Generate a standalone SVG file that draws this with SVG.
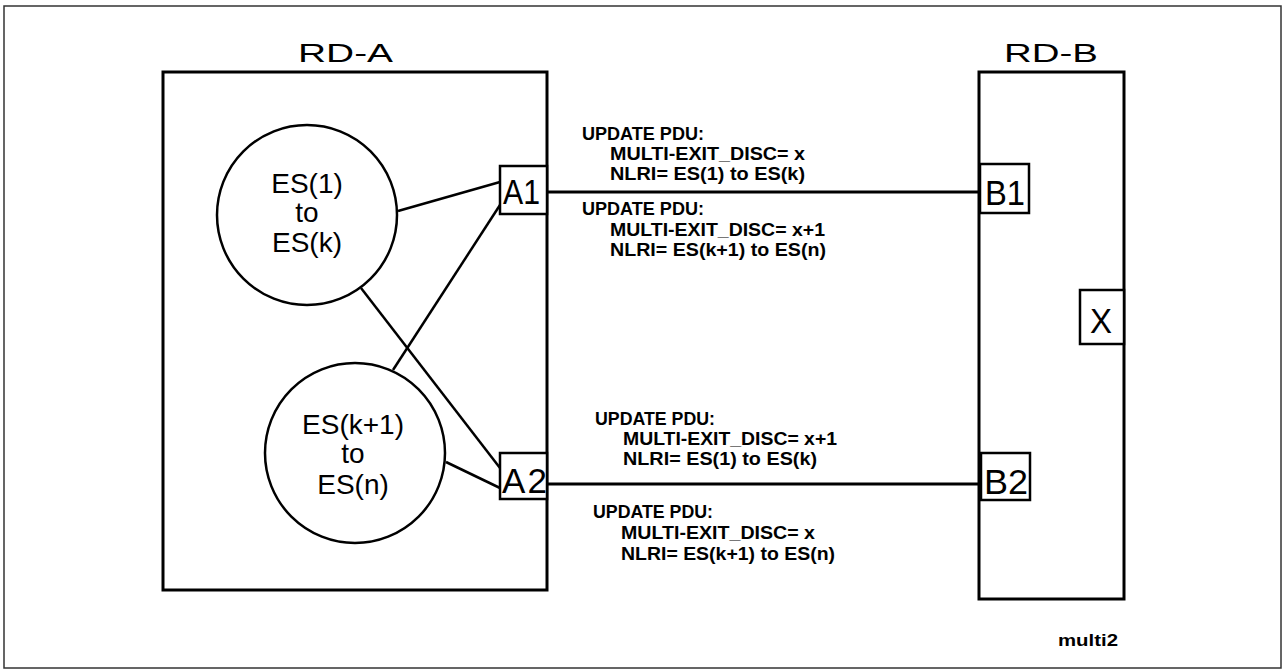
<svg xmlns="http://www.w3.org/2000/svg" width="1286" height="671" viewBox="0 0 1286 671">
<style>
.frame{fill:none;stroke:#333;stroke-width:1.5}
.dom{fill:none;stroke:#000;stroke-width:3}
.es{fill:#fff;stroke:#000;stroke-width:2.5}
.port{fill:#fff;stroke:#000;stroke-width:2.5}
.conn line{stroke:#000;stroke-width:2.5}
.title{font-family:"Liberation Sans",Arial,sans-serif;font-size:26px;fill:#000}
.estxt{font-family:"Liberation Sans",Arial,sans-serif;font-size:28px;fill:#000;text-anchor:middle}
.plbl{font-family:"Liberation Sans",Arial,sans-serif;font-size:35px;fill:#000}
.pdu{font-family:"Liberation Sans",Arial,sans-serif;font-size:19px;font-weight:bold;fill:#000}
.cap{font-family:"Liberation Sans",Arial,sans-serif;font-size:17px;font-weight:bold;fill:#000}
</style>
<rect width="1286" height="671" fill="#fff"/>
<rect class="frame" x="4" y="6" width="1277" height="662"/>

<g id="rd-a">
<rect class="dom" x="163" y="72" width="384" height="518"/>
<text class="title" x="298" y="62" textLength="95" lengthAdjust="spacingAndGlyphs">RD-A</text>
</g>
<g id="rd-b">
<rect class="dom" x="979" y="72" width="145" height="527"/>
<text class="title" x="1004" y="62" textLength="94" lengthAdjust="spacingAndGlyphs">RD-B</text>
</g>

<g class="conn" id="connectors">
<line x1="398" y1="211" x2="500" y2="182"/>
<line x1="393" y1="370" x2="500" y2="205"/>
<line x1="361" y1="288" x2="500" y2="468"/>
<line x1="446" y1="462" x2="500" y2="488"/>
<line x1="547" y1="192" x2="980" y2="192" style="stroke-width:3"/>
<line x1="547" y1="484" x2="981" y2="484" style="stroke-width:3"/>
</g>

<g id="es1">
<circle class="es" cx="307" cy="215" r="90"/>
<text class="estxt" x="307" y="193">ES(1)</text>
<text class="estxt" x="307" y="222">to</text>
<text class="estxt" x="307" y="252">ES(k)</text>
</g>
<g id="es2">
<circle class="es" cx="355" cy="453" r="90"/>
<text class="estxt" x="353" y="434">ES(k+1)</text>
<text class="estxt" x="353" y="463">to</text>
<text class="estxt" x="353" y="494">ES(n)</text>
</g>

<g id="a1">
<rect class="port" x="500" y="166" width="47" height="48"/>
<text class="plbl" x="503" y="204" textLength="37" lengthAdjust="spacingAndGlyphs">A1</text>
</g>
<g id="a2">
<rect class="port" x="500" y="453" width="47" height="46"/>
<text class="plbl" x="502" y="493" textLength="45" lengthAdjust="spacing">A2</text>
</g>
<g id="b1">
<rect class="port" x="980" y="164" width="49" height="49"/>
<text class="plbl" x="985" y="205" textLength="40" lengthAdjust="spacingAndGlyphs">B1</text>
</g>
<g id="b2">
<rect class="port" x="981" y="453" width="49" height="47"/>
<text class="plbl" x="984" y="494" textLength="44" lengthAdjust="spacingAndGlyphs">B2</text>
</g>
<g id="x">
<rect class="port" x="1080" y="290" width="44" height="54"/>
<text class="plbl" x="1090" y="333" textLength="22" lengthAdjust="spacingAndGlyphs">X</text>
</g>

<g id="pdu1">
<text class="pdu" x="582" y="140" textLength="122" lengthAdjust="spacingAndGlyphs">UPDATE PDU:</text>
<text class="pdu" x="610" y="160" textLength="195" lengthAdjust="spacingAndGlyphs">MULTI-EXIT_DISC= x</text>
<text class="pdu" x="610" y="180" textLength="195" lengthAdjust="spacingAndGlyphs">NLRI= ES(1) to ES(k)</text>
</g>
<g id="pdu2">
<text class="pdu" x="582" y="215" textLength="122" lengthAdjust="spacingAndGlyphs">UPDATE PDU:</text>
<text class="pdu" x="610" y="236" textLength="215" lengthAdjust="spacingAndGlyphs">MULTI-EXIT_DISC= x+1</text>
<text class="pdu" x="610" y="256" textLength="216" lengthAdjust="spacingAndGlyphs">NLRI= ES(k+1) to ES(n)</text>
</g>
<g id="pdu3">
<text class="pdu" x="595" y="425" textLength="120" lengthAdjust="spacingAndGlyphs">UPDATE PDU:</text>
<text class="pdu" x="623" y="445" textLength="214" lengthAdjust="spacingAndGlyphs">MULTI-EXIT_DISC= x+1</text>
<text class="pdu" x="623" y="465" textLength="194" lengthAdjust="spacingAndGlyphs">NLRI= ES(1) to ES(k)</text>
</g>
<g id="pdu4">
<text class="pdu" x="593" y="518" textLength="120" lengthAdjust="spacingAndGlyphs">UPDATE PDU:</text>
<text class="pdu" x="621" y="539" textLength="194" lengthAdjust="spacingAndGlyphs">MULTI-EXIT_DISC= x</text>
<text class="pdu" x="621" y="560" textLength="214" lengthAdjust="spacingAndGlyphs">NLRI= ES(k+1) to ES(n)</text>
</g>

<text class="cap" x="1058" y="646" textLength="60" lengthAdjust="spacingAndGlyphs">multi2</text>
</svg>
